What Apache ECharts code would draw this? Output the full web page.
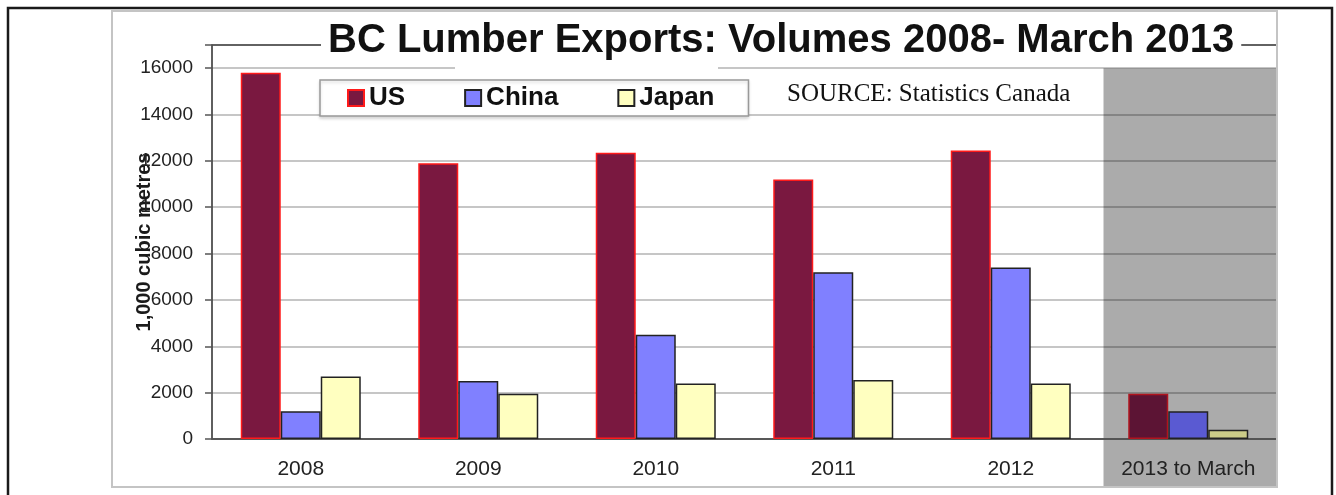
<!DOCTYPE html>
<html>
<head>
<meta charset="utf-8">
<script src="https://cdn.jsdelivr.net/npm/echarts@6/dist/echarts.min.js"></script>
<style>
  html, body { margin: 0; padding: 0; background: #fff; }
  #chart { width: 1336px; height: 495px; }
</style>
</head>
<body>
<div id="chart"></div>
<script>
// BC lumber exports, 1,000 cubic metres
const categories = ['2008', '2009', '2010', '2011', '2012', '2013 to March'];
const usValues = [15800, 11900, 12350, 11200, 12450, 1950];
const chinaValues = [1200, 2500, 4500, 7200, 7400, 1200];
const japanValues = [2700, 1950, 2400, 2550, 2400, 400];
const yTicks = [0, 2000, 4000, 6000, 8000, 10000, 12000, 14000, 16000];

const FONT = '"Liberation Sans", Arial, sans-serif';
const lastIdx = categories.length - 1;

// the 2013 column sits under the grey shading, so its bars come out darker
function withShade(values, shadeColor, shadeBorder) {
  return values.map((v, i) => i === lastIdx
    ? { value: v, itemStyle: { color: shadeColor, borderColor: shadeBorder } }
    : v);
}

const chart = echarts.init(document.getElementById('chart'));

const option = {
  backgroundColor: '#fff',
  animation: false,
  title: [
    {
      text: 'BC Lumber Exports: Volumes 2008- March 2013',
      left: 321,
      top: 17,
      padding: [2, 7],
      backgroundColor: '#fff',
      textStyle: { fontFamily: FONT, fontSize: 40, fontWeight: 'bold', color: '#111', lineHeight: 44 }
    },
    {
      text: 'SOURCE: Statistics Canada',
      left: 782,
      top: 77,
      textStyle: { fontFamily: '"Liberation Serif", "Times New Roman", serif', fontSize: 25, fontWeight: 'normal', color: '#111' }
    }
  ],
  legend: {
    data: ['US', 'China', 'Japan'],
    left: 320,
    top: 80,
    padding: [5, 34, 5, 27],
    itemGap: 59,
    itemWidth: 16,
    itemHeight: 16,
    icon: 'rect',
    backgroundColor: '#fff',
    borderColor: '#999',
    borderWidth: 1.5,
    shadowColor: 'rgba(0,0,0,0.15)',
    shadowBlur: 3,
    shadowOffsetY: 2,
    textStyle: { fontFamily: FONT, fontSize: 26, fontWeight: 'bold', color: '#111' }
  },
  grid: {
    left: 212,
    right: 59,
    top: 45,
    bottom: 56,
    show: true,
    borderColor: '#555',
    borderWidth: 1.5
  },
  xAxis: {
    type: 'category',
    data: categories,
    axisLine: { lineStyle: { color: '#555', width: 1.5 } },
    axisTick: { show: false },
    axisLabel: { fontFamily: FONT, fontSize: 21, color: '#222', margin: 20 }
  },
  yAxis: {
    type: 'value',
    min: 0,
    max: 17000,
    interval: 2000,
    name: '1,000 cubic metres',
    nameLocation: 'middle',
    nameGap: 58,
    nameMoveOverlap: false,
    nameTextStyle: { fontFamily: FONT, fontSize: 20, fontWeight: 'bold', color: '#1a1a1a' },
    axisLine: { show: true, lineStyle: { color: '#555', width: 1.5 } },
    axisTick: { show: true, length: 7, lineStyle: { color: '#555', width: 1.5 } },
    axisLabel: {
      fontFamily: FONT,
      fontSize: 19,
      color: '#222',
      margin: 19,
      formatter: v => (yTicks.indexOf(v) >= 0 ? String(v) : '')
    },
    splitLine: { lineStyle: { color: 'rgba(0,0,0,0.3)', width: 1.5 } }
  },
  series: [
    {
      name: 'US',
      type: 'bar',
      barWidth: 40,
      barGap: '0%',
      data: withShade(usValues, '#5c1434', '#b0141e'),
      itemStyle: { color: '#7a1840', borderColor: '#ff1a1a', borderWidth: 1.5 }
    },
    {
      name: 'China',
      type: 'bar',
      barWidth: 40,
      barGap: '0%',
      data: withShade(chinaValues, '#5a5ad2', '#222'),
      itemStyle: { color: '#8080ff', borderColor: '#222', borderWidth: 1.5 }
    },
    {
      name: 'Japan',
      type: 'bar',
      barWidth: 40,
      barGap: '0%',
      data: withShade(japanValues, '#cbcb88', '#222'),
      itemStyle: { color: '#ffffc0', borderColor: '#222', borderWidth: 1.5 }
    }
  ]
};

chart.setOption(option);

// grey shading behind the 2013 column, placed from the axis scales
const cLast = chart.convertToPixel({ xAxisIndex: 0 }, categories[lastIdx]);
const cPrev = chart.convertToPixel({ xAxisIndex: 0 }, categories[lastIdx - 1]);
const band = cLast - cPrev;
const yTop = chart.convertToPixel({ yAxisIndex: 0 }, 16000);
const panelLeft = cLast - band / 2 + 4;
const panelRight = cLast + band / 2;

chart.setOption({
  graphic: [
    {
      type: 'rect',
      z: -1,
      silent: true,
      shape: { x: panelLeft, y: yTop, width: panelRight - panelLeft, height: 487 - yTop },
      style: { fill: '#ababab' }
    },
    {
      // gap in the top gridline under the title
      type: 'rect',
      z: 1,
      silent: true,
      shape: { x: 455, y: yTop - 4, width: 263, height: 8 },
      style: { fill: '#fff' }
    },
    {
      type: 'rect',
      z: 50,
      silent: true,
      shape: { x: 112, y: 11, width: 1165, height: 476 },
      style: { fill: 'none', stroke: '#c4c4c4', lineWidth: 2 }
    },
    {
      type: 'rect',
      z: 50,
      silent: true,
      shape: { x: 8, y: 8, width: 1324, height: 520 },
      style: { fill: 'none', stroke: '#1a1a1a', lineWidth: 2.5 }
    }
  ]
});
</script>
</body>
</html>
